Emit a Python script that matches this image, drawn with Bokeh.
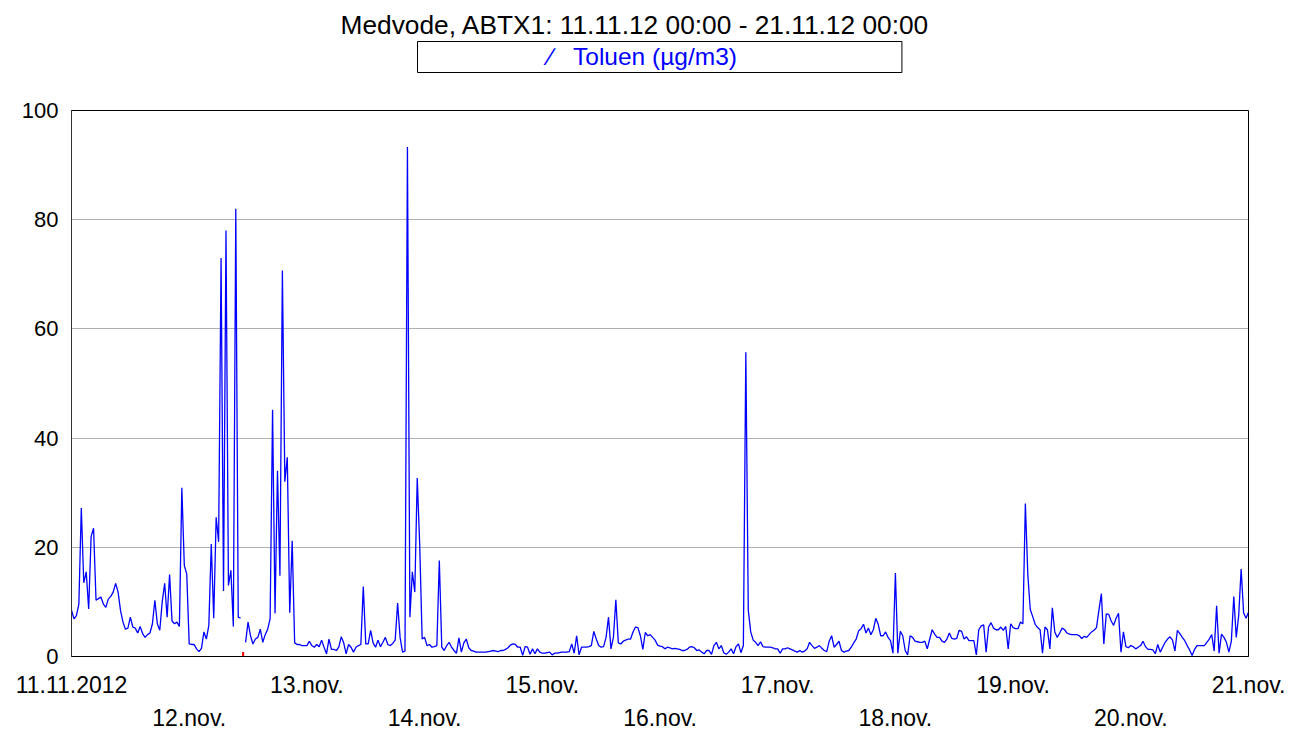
import numpy as np
from bokeh.plotting import figure
from bokeh.models import Title, FixedTicker, LinearAxis, Range1d, ColumnDataSource
from bokeh.embed import file_html
from bokeh.resources import INLINE

title_text = "Medvode, ABTX1: 11.11.12 00:00 - 21.11.12 00:00"
series_name = "Toluen (µg/m3)"
day_hours = [0, 24, 48, 72, 96, 120, 144, 168, 192, 216, 240]
day_labels = ["11.11.2012", "12.nov.", "13.nov.", "14.nov.", "15.nov.", "16.nov.",
              "17.nov.", "18.nov.", "19.nov.", "20.nov.", "21.nov."]
y_ticks = [0, 20, 40, 60, 80, 100]
step_hours = 0.5  # half-hourly values

nan = float("nan")
toluen_d1 = [8.5, 6.9, 7.5, 9.6, 27.2, 13.5, 15.5, 8.7, 22.0, 23.5, 10.3, 10.6,
             10.9, 9.6, 9.0, 10.5, 11.0, 11.8, 13.4, 11.8, 8.4, 6.3, 5.0, 5.2,
             7.2, 5.4, 5.2, 4.3, 5.5, 4.2, 3.5, 4.0, 4.3, 6.0, 10.3, 6.0,
             4.8, 10.0, 13.4, 7.2, 15.0, 6.5, 6.0, 6.3, 5.5, 30.9, 16.7, 15.1]
toluen_d2 = [2.3, 2.2, 2.2, 1.4, 0.9, 1.5, 4.5, 3.2, 5.7, 20.6, 7.0, 25.5,
             21.0, 73.0, 12.0, 78.0, 13.0, 15.8, 5.5, 82.0, 7.2, 7.0, nan, 2.6,
             6.3, 3.8, 2.3, 3.2, 3.5, 5.0, 2.6, 4.0, 5.0, 6.9, 45.2, 7.9,
             34.0, 14.8, 70.7, 32.0, 36.5, 8.0, 21.2, 2.5, 2.2, 2.2, 2.0, 2.0]
toluen_d3 = [2.0, 2.8, 2.0, 1.7, 2.2, 1.8, 3.0, 1.7, 0.5, 3.2, 1.3, 1.3,
             1.1, 1.7, 3.6, 2.5, 0.5, 2.2, 1.7, 0.8, 1.7, 2.0, 2.2, 12.8,
             2.3, 2.3, 4.8, 2.5, 1.7, 3.0, 1.8, 2.6, 3.5, 2.2, 2.0, 2.4,
             3.0, 9.8, 3.5, 0.8, 1.0, 93.3, 7.2, 15.5, 11.8, 32.7, 20.5, 3.2]
toluen_d4 = [3.5, 2.0, 2.2, 1.7, 1.8, 2.0, 17.6, 1.7, 1.1, 2.0, 2.6, 1.7,
             1.1, 0.6, 3.4, 0.8, 2.5, 3.2, 1.6, 1.1, 1.0, 0.8, 0.8, 0.8,
             0.8, 0.8, 0.9, 1.0, 1.1, 1.0, 0.9, 1.1, 1.1, 1.3, 1.6, 2.1,
             2.3, 2.2, 1.7, 1.7, 0.2, 1.8, 1.7, 0.4, 1.4, 0.5, 1.4, 0.8]
toluen_d5 = [0.6, 0.6, 0.7, 0.8, 0.3, 0.6, 0.6, 0.7, 0.8, 0.8, 0.8, 0.9,
             2.3, 0.6, 3.8, 0.3, 1.7, 1.7, 1.7, 1.8, 2.0, 4.6, 3.2, 2.0,
             1.7, 1.8, 3.5, 7.2, 1.4, 3.5, 10.4, 2.5, 2.3, 2.8, 3.0, 3.2,
             3.2, 4.5, 5.4, 5.3, 3.8, 1.3, 4.4, 3.8, 4.0, 3.5, 3.0, 2.1]
toluen_d6 = [1.9, 1.8, 1.4, 1.7, 1.6, 1.4, 1.5, 1.4, 1.3, 1.1, 1.1, 1.3,
             1.7, 1.8, 1.6, 1.1, 1.2, 0.8, 0.5, 1.1, 1.1, 0.4, 2.0, 2.6,
             1.4, 2.0, 0.7, 0.4, 0.8, 1.4, 0.5, 1.8, 2.3, 0.7, 2.0, 55.7,
             8.5, 4.5, 3.0, 2.6, 2.0, 2.7, 1.8, 1.7, 1.7, 1.7, 1.6, 1.4]
toluen_d7 = [1.4, 0.6, 1.4, 1.4, 1.6, 1.4, 1.2, 1.0, 0.8, 1.1, 0.8, 1.0,
             1.4, 2.6, 2.0, 1.5, 1.7, 2.0, 1.5, 1.1, 0.9, 2.8, 3.8, 1.7,
             2.2, 2.8, 1.1, 0.8, 1.0, 1.1, 1.7, 2.5, 3.2, 4.7, 5.1, 5.9,
             4.3, 5.2, 4.0, 4.9, 7.0, 5.9, 3.8, 3.8, 4.5, 3.5, 2.9, 0.6]
toluen_d8 = [15.3, 0.6, 4.6, 3.8, 1.1, 0.3, 3.8, 3.5, 2.8, 2.7, 2.6, 2.6,
             2.8, 1.4, 3.2, 4.9, 4.1, 3.5, 3.5, 2.8, 2.6, 3.2, 4.3, 3.3,
             3.2, 3.3, 4.8, 4.6, 3.2, 3.6, 2.9, 2.9, 2.9, 0.3, 4.9, 5.6,
             5.8, 0.8, 5.4, 6.2, 5.2, 4.9, 4.9, 5.4, 4.8, 5.5, 1.4, 6.0]
toluen_d9 = [5.3, 5.1, 5.1, 6.3, 6.0, 28.0, 15.0, 8.6, 7.3, 5.9, 5.3, 4.9,
             0.6, 5.4, 4.9, 1.4, 8.9, 4.5, 3.5, 4.3, 5.2, 4.9, 4.3, 4.1,
             4.0, 4.0, 4.0, 3.8, 3.3, 3.7, 3.5, 4.0, 4.5, 4.8, 5.3, 8.5,
             11.5, 2.3, 7.8, 7.7, 6.5, 5.7, 7.0, 7.9, 0.8, 4.5, 1.8, 1.6]
toluen_d10 = [2.0, 1.8, 1.4, 1.7, 2.0, 2.8, 1.8, 1.3, 1.3, 1.2, 0.5, 2.2,
              0.8, 1.7, 2.6, 3.2, 3.6, 3.0, 1.0, 4.8, 4.2, 3.5, 2.9, 2.0,
              1.2, 0.2, 1.3, 2.0, 2.0, 2.0, 2.0, 2.6, 3.2, 4.0, 1.0, 9.3,
              0.6, 4.1, 3.5, 2.6, 0.8, 2.8, 11.0, 3.5, 7.5, 16.0, 8.0, 7.0, 8.1]

toluen = (toluen_d1 + toluen_d2 + toluen_d3 + toluen_d4 + toluen_d5 +
          toluen_d6 + toluen_d7 + toluen_d8 + toluen_d9 + toluen_d10)
hours = [i * step_hours for i in range(len(toluen))]

src = ColumnDataSource(data=dict(t=hours, v=toluen))
missing_t = [t for t, v in zip(hours, toluen) if v != v]
missing = ColumnDataSource(data=dict(t=missing_t, v=[0.0] * len(missing_t)))

FONT = "Liberation Sans"

p = figure(frame_width=1177, frame_height=546, output_backend="svg",
           toolbar_location=None, x_range=Range1d(0, 240), y_range=Range1d(0, 100),
           min_border_left=71, min_border_right=38, min_border_top=110,
           min_border_bottom=0, x_axis_type=None)
p.background_fill_color = "white"
p.border_fill_color = "white"
p.outline_line_color = "black"
p.outline_line_width = 1

# panels above the plot, from the plot outward: spacer, legend box, title
spacer = Title(text=" ", text_font=FONT, text_font_size="20px", standoff=14)
p.add_layout(spacer, "above")
leg = Title(text="\u2215\u00a0\u00a0\u00a0" + series_name, align="left", offset=346,
            text_color="#0000FF", text_font=FONT, text_font_size="24.5px",
            text_font_style="normal", border_line_color="black",
            border_line_width=1, background_fill_color="white",
            padding=dict(left=131, right=165, top=1, bottom=3), standoff=0)
p.add_layout(leg, "above")
main = Title(text=title_text, align="left", offset=269, text_color="black",
             text_font=FONT, text_font_size="26.3px", text_font_style="normal",
             standoff=0)
p.add_layout(main, "above")

# y axis
p.yaxis.ticker = FixedTicker(ticks=y_ticks)
p.yaxis.major_tick_line_color = None
p.yaxis.minor_tick_line_color = None
p.yaxis.major_tick_out = 0
p.yaxis.minor_tick_out = 0
p.yaxis.major_label_text_font = FONT
p.yaxis.major_label_text_font_size = "22px"
p.yaxis.major_label_text_color = "black"
p.yaxis.major_label_standoff = 13
p.yaxis.axis_line_color = "#333333"

# x axes: even days on first row, odd days on second row
even = day_hours[0::2]
odd = day_hours[1::2]
ax1 = LinearAxis(ticker=FixedTicker(ticks=even),
                 major_label_overrides={h: day_labels[day_hours.index(h)] for h in even})
ax2 = LinearAxis(ticker=FixedTicker(ticks=odd),
                 major_label_overrides={h: day_labels[day_hours.index(h)] for h in odd})
for ax, so in ((ax1, 15), (ax2, 4)):
    ax.major_tick_line_color = None
    ax.minor_tick_line_color = None
    ax.major_tick_out = 0
    ax.minor_tick_out = 0
    ax.major_label_text_font = FONT
    ax.major_label_text_font_size = "23px"
    ax.major_label_text_color = "black"
    ax.major_label_standoff = so
ax1.axis_line_color = "black"
ax2.axis_line_color = None
p.add_layout(ax1, "below")
p.add_layout(ax2, "below")

# grid
p.xgrid.ticker = FixedTicker(ticks=day_hours)
p.ygrid.ticker = FixedTicker(ticks=y_ticks)
for g in (p.xgrid, p.ygrid):
    g.grid_line_color = "#444444"
    g.grid_line_width = 1
    g.grid_line_dash = "1 1"
    g.grid_line_alpha = 0.85

p.line("t", "v", source=src, line_color="#0000FF", line_width=1.3)
p.scatter("t", "v", source=missing, marker="dash", angle=np.pi / 2, size=9,
          line_color="red", line_width=2)

open("out.html", "w").write(file_html(p, INLINE))
